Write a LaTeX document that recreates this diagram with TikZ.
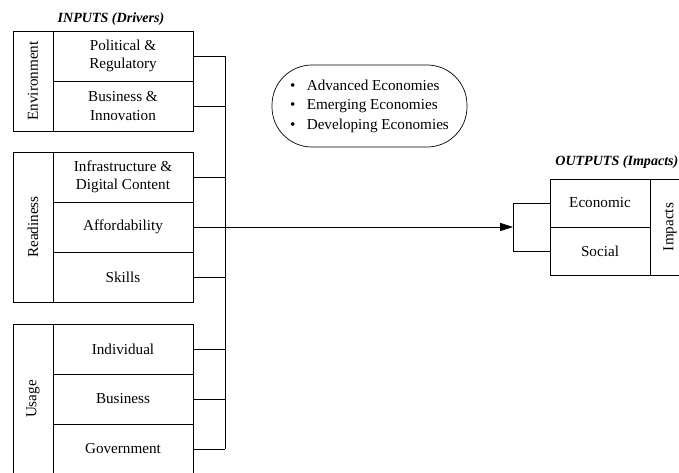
\documentclass[tikz,border=0pt]{standalone}
\usepackage{fontspec}
\setmainfont{Liberation Serif}
\usetikzlibrary{positioning,arrows.meta}
\tikzset{
  cell/.style={draw, minimum width=3.5cm, minimum height=1.25cm, align=center, outer sep=0pt, inner sep=1pt, font=\fontsize{10.8}{13}\selectfont},
  side/.style={draw, rotate=90, minimum height=1cm, outer sep=0pt, inner sep=1pt, font=\fontsize{10.8}{13}\selectfont},
  head/.style={font=\fontsize{10}{12}\selectfont\bfseries\itshape, inner sep=0pt},
}
\begin{document}
\begin{tikzpicture}[x=0.25cm,y=0.25cm,line width=0.5pt]
  \path[use as bounding box, clip] (0,0) rectangle (67.9,47.2);
  \node[head, anchor=base] (inhead) at (11.1,44.9) {INPUTS (Drivers)};
  \node[cell] (pol) at (12.3,41.6) {Political \&\\Regulatory};
  \node[cell, below=0pt of pol] (bin) {Business \&\\Innovation};
  \node[side, minimum width=2.5cm, anchor=south] (env) at (pol.south west) {Environment};
  \node[cell] (inf) at (12.3,29.5) {Infrastructure \&\\Digital Content};
  \node[cell, below=0pt of inf] (aff) {Affordability};
  \node[cell, below=0pt of aff] (ski) {Skills};
  \node[side, minimum width=3.75cm, anchor=south] (rdy) at (aff.west) {Readiness};
  \node[cell] (ind) at (12.3,12.3) {Individual};
  \node[cell, below=0pt of ind] (biz) {Business};
  \node[cell, below=0pt of biz] (gov) {Government};
  \node[side, minimum width=3.75cm, anchor=south] (usg) at (biz.west) {Usage};
  \node[draw, rounded corners=1cm, minimum width=4.875cm, minimum height=2.05cm, align=left, font=\fontsize{10.8}{13.9}\selectfont] (grp) at (36.95,36.6)
    {\makebox[1.1em][l]{\textbullet}Advanced Economies\\\makebox[1.1em][l]{\textbullet}Emerging Economies\\\makebox[1.1em][l]{\textbullet}Developing Economies};
  \node[head, anchor=base west] (outhead) at (55.5,30.6) {OUTPUTS (Impacts)};
  \node[cell, minimum width=2.5cm, minimum height=1.2cm] (econ) at (60,26.9) {Economic};
  \node[cell, minimum width=2.5cm, minimum height=1.2cm, below=0pt of econ] (soci) {Social};
  \node[side, minimum width=2.4cm, anchor=north] (imp) at (econ.south east) {Impacts};
  \coordinate (bus) at (22.5,0);
  \coordinate (fork) at (51.3,0);
  \foreach \c in {pol,bin,inf,aff,ski,ind,biz,gov}
    \draw (\c.east) -- (\c.east -| bus);
  \draw (pol.east -| bus) -- (gov.east -| bus);
  \draw (econ.west) -- (econ.west -| fork) -- (soci.west -| fork) -- (soci.west);
  \draw[-{Triangle[length=3.2mm,width=2mm]}] (aff.east -| bus) -- (aff.east -| fork);
\end{tikzpicture}
\end{document}
